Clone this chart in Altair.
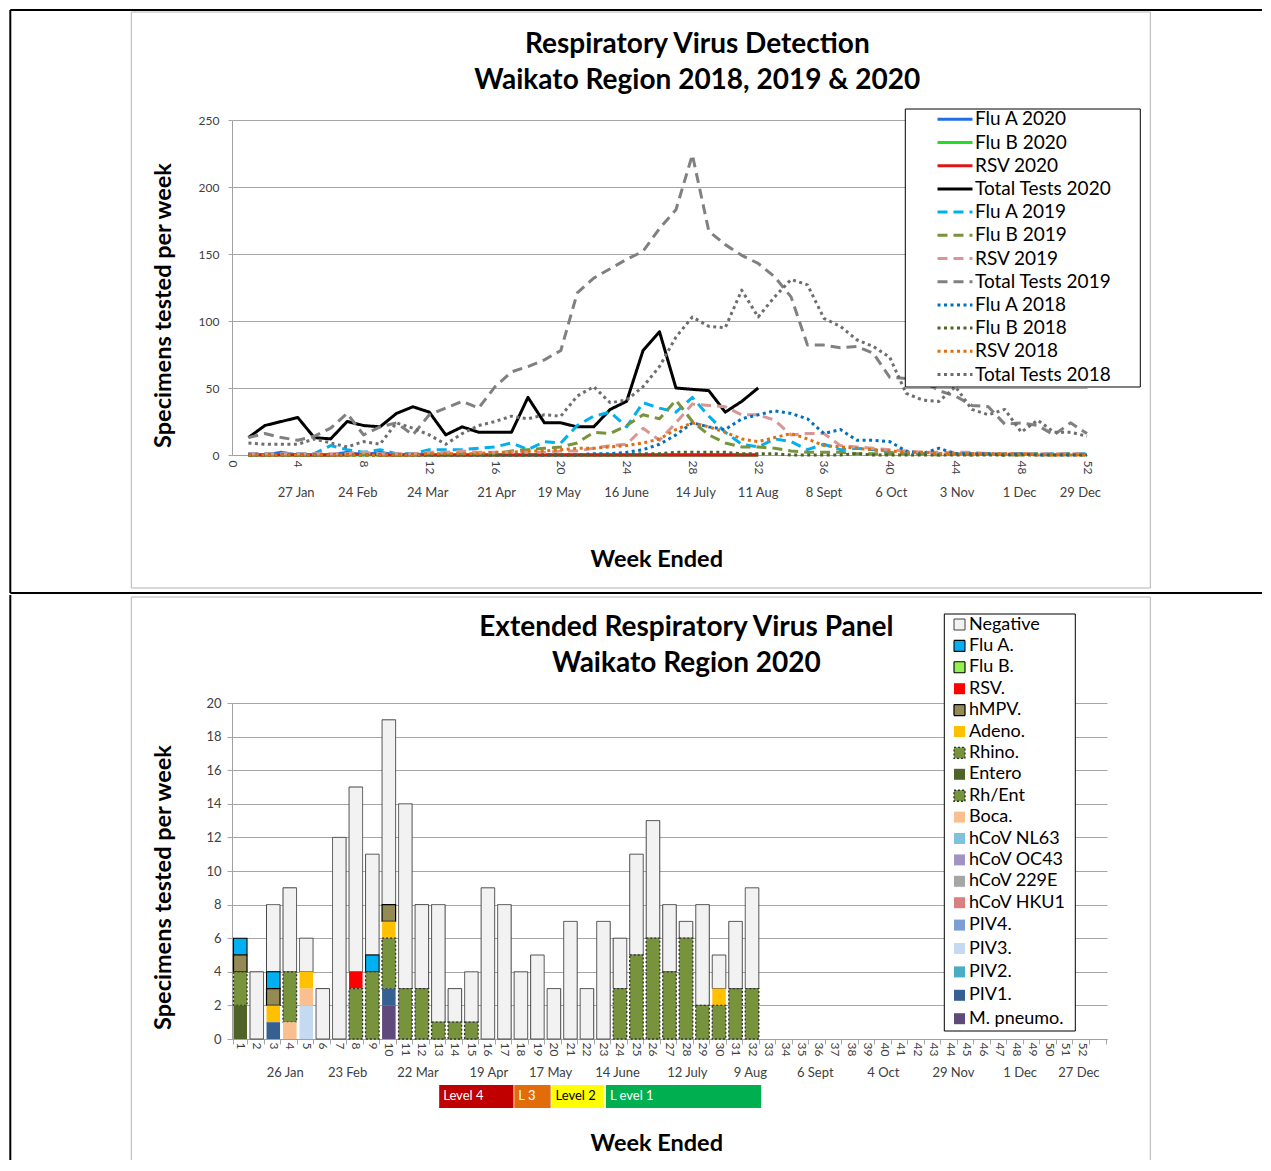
import altair as alt
import pandas as pd

FONT = "Lato"

# ---------------- Top chart data (weekly specimens) ----------------
flu_a_2020 = [1, 0, 2, 0, 0, 0, 2, 0, 2, 0, 1, 0, 0, 0, 0, 0, 0, 0, 0, 0, 0, 0, 0, 0, 0, 0, 0, 0, 0, 0, 0, 0]
flu_b_2020 = [0, 0, 0, 0, 0, 0, 0, 0, 0, 0, 0, 0, 0, 0, 0, 0, 0, 0, 0, 0, 0, 0, 0, 0, 0, 0, 0, 0, 0, 0, 0, 0]
rsv_2020 = [0, 0, 0, 0, 0, 0, 0, 1, 0, 0, 0, 0, 0, 0, 0, 0, 0, 0, 0, 0, 0, 0, 0, 0, 0, 0, 0, 0, 0, 0, 0, 0]
total_2020 = [13, 22, 25, 28, 13, 12, 25, 22, 21, 31, 36, 32, 15, 21, 17, 17, 17, 43, 24, 24,
              21, 21, 34, 40, 78, 92, 50, 49, 48, 32, 40, 50]
flu_a_2019 = [1, 1, 1, 1, 1, 7, 4, 2, 4, 1, 1, 4, 4, 4, 5, 6, 9, 4, 10, 9, 22, 29, 32, 21, 39, 35,
              32, 43, 29, 17, 8, 6, 12, 10, 4, 8, 4, 5, 4, 2, 1, 1, 1, 1, 1, 1, 1, 1, 1, 1, 1, 1]
flu_b_2019 = [0, 0, 0, 0, 0, 0, 0, 1, 0, 0, 0, 1, 1, 1, 1, 1, 3, 4, 5, 6, 9, 17, 16, 22, 30, 27,
              41, 25, 15, 9, 6, 6, 5, 3, 2, 2, 2, 1, 1, 1, 1, 1, 0, 1, 0, 1, 0, 0, 1, 0, 1, 0]
rsv_2019 = [1, 1, 1, 1, 1, 1, 1, 2, 1, 1, 1, 2, 2, 3, 2, 2, 2, 2, 2, 3, 3, 5, 7, 8, 20, 11,
            24, 38, 37, 36, 30, 30, 26, 15, 16, 16, 7, 6, 5, 4, 3, 2, 2, 2, 2, 1, 1, 1, 1, 1, 1, 1]
total_2019 = [13, 16, 13, 11, 14, 20, 31, 15, 21, 24, 15, 30, 35, 40, 35, 51, 62, 66, 71, 78,
              121, 132, 139, 146, 152, 169, 183, 224, 167, 157, 149, 143, 133, 118, 82, 82, 80,
              81, 76, 58, 57, 55, 48, 44, 37, 36, 23, 24, 22, 15, 24, 16]
flu_a_2018 = [0, 0, 0, 0, 0, 0, 0, 0, 0, 0, 0, 0, 0, 0, 0, 0, 0, 0, 0, 0, 0, 1, 1, 2, 4, 8,
              15, 24, 21, 19, 27, 30, 33, 31, 27, 16, 19, 11, 11, 10, 3, 1, 5, 1, 1, 1, 0, 1, 0, 0, 0, 0]
flu_b_2018 = [0, 0, 0, 0, 0, 0, 0, 0, 0, 0, 0, 0, 0, 0, 0, 0, 0, 0, 0, 0, 0, 0, 0, 0, 1, 1,
              2, 2, 2, 2, 1, 1, 1, 0, 0, 0, 0, 1, 0, 0, 0, 0, 0, 0, 0, 0, 0, 0, 0, 0, 0, 0]
rsv_2018 = [0, 0, 0, 0, 0, 0, 0, 0, 0, 0, 0, 1, 1, 1, 1, 2, 2, 3, 3, 4, 5, 5, 6, 7, 9, 12,
            19, 24, 21, 17, 12, 10, 13, 16, 12, 7, 6, 5, 4, 3, 2, 2, 1, 1, 1, 1, 1, 1, 0, 0, 0, 0]
total_2018 = [9, 8, 8, 8, 12, 9, 6, 10, 8, 24, 20, 15, 8, 16, 22, 25, 29, 27, 30, 29, 44, 51,
              39, 41, 51, 66, 88, 103, 96, 95, 123, 103, 118, 131, 127, 102, 96, 86, 81, 73, 46,
              41, 40, 51, 34, 30, 34, 17, 26, 17, 17, 14]

top_series = ["Flu A 2020", "Flu B 2020", "RSV 2020", "Total Tests 2020",
              "Flu A 2019", "Flu B 2019", "RSV 2019", "Total Tests 2019",
              "Flu A 2018", "Flu B 2018", "RSV 2018", "Total Tests 2018"]
top_values = [flu_a_2020, flu_b_2020, rsv_2020, total_2020,
              flu_a_2019, flu_b_2019, rsv_2019, total_2019,
              flu_a_2018, flu_b_2018, rsv_2018, total_2018]
top_colors = ["#1F6FE0", "#22DD22", "#DD1515", "#000000",
              "#00B0F0", "#77933C", "#D99694", "#808080",
              "#0070C0", "#4F6228", "#E46C0A", "#6E6E6E"]
top_dashes = [[1, 0], [1, 0], [1, 0], [1, 0],
              [10, 6], [10, 6], [10, 6], [10, 6],
              [3, 3.5], [3, 3.5], [3, 3.5], [3, 3.5]]
top_widths = [3, 3, 3, 4.2, 3.5, 3.5, 3.5, 3.5, 3.2, 3.2, 3.2, 3.2]

top_title_lines = ["Respiratory Virus Detection", "Waikato Region 2018, 2019 & 2020"]
top_date_labels = ["27 Jan", "24 Feb", "24 Mar", "21 Apr", "19 May", "16 June", "14 July",
                   "11 Aug", "8 Sept", "6 Oct", "3 Nov", "1 Dec", "29 Dec"]
top_date_weeks = [3.9, 7.65, 11.9, 16.1, 19.9, 24.0, 28.2, 32.0, 36.0, 40.1, 44.1, 47.9, 51.6]

# ---------------- Bottom chart data (extended panel 2020) ----------------
panel_weeks = list(range(1, 33))
negative = [0, 4, 4, 5, 2, 3, 12, 11, 6, 11, 11, 5, 7, 2, 3, 9, 8, 4, 5, 3, 7, 3, 7, 3, 6, 7, 4, 1, 6, 2, 4, 6]
flu_a = [1, 0, 1, 0, 0, 0, 0, 0, 1, 0, 0, 0, 0, 0, 0, 0, 0, 0, 0, 0, 0, 0, 0, 0, 0, 0, 0, 0, 0, 0, 0, 0]
rsv = [0, 0, 0, 0, 0, 0, 0, 1, 0, 0, 0, 0, 0, 0, 0, 0, 0, 0, 0, 0, 0, 0, 0, 0, 0, 0, 0, 0, 0, 0, 0, 0]
hmpv = [1, 0, 1, 0, 0, 0, 0, 0, 0, 1, 0, 0, 0, 0, 0, 0, 0, 0, 0, 0, 0, 0, 0, 0, 0, 0, 0, 0, 0, 0, 0, 0]
adeno = [0, 0, 1, 0, 1, 0, 0, 0, 0, 1, 0, 0, 0, 0, 0, 0, 0, 0, 0, 0, 0, 0, 0, 0, 0, 0, 0, 0, 0, 1, 0, 0]
rhino = [2, 0, 0, 3, 0, 0, 0, 3, 4, 3, 3, 3, 1, 1, 1, 0, 0, 0, 0, 0, 0, 0, 0, 3, 5, 6, 4, 6, 2, 2, 3, 3]
entero = [2, 0, 0, 0, 0, 0, 0, 0, 0, 0, 0, 0, 0, 0, 0, 0, 0, 0, 0, 0, 0, 0, 0, 0, 0, 0, 0, 0, 0, 0, 0, 0]
boca = [0, 0, 0, 1, 1, 0, 0, 0, 0, 0, 0, 0, 0, 0, 0, 0, 0, 0, 0, 0, 0, 0, 0, 0, 0, 0, 0, 0, 0, 0, 0, 0]
piv3 = [0, 0, 0, 0, 2, 0, 0, 0, 0, 0, 0, 0, 0, 0, 0, 0, 0, 0, 0, 0, 0, 0, 0, 0, 0, 0, 0, 0, 0, 0, 0, 0]
piv1 = [0, 0, 1, 0, 0, 0, 0, 0, 0, 1, 0, 0, 0, 0, 0, 0, 0, 0, 0, 0, 0, 0, 0, 0, 0, 0, 0, 0, 0, 0, 0, 0]
m_pneumo = [0, 0, 0, 0, 0, 0, 0, 0, 0, 2, 0, 0, 0, 0, 0, 0, 0, 0, 0, 0, 0, 0, 0, 0, 0, 0, 0, 0, 0, 0, 0, 0]

categories = ["Negative", "Flu A.", "Flu B.", "RSV.", "hMPV.", "Adeno.", "Rhino.", "Entero",
              "Rh/Ent", "Boca.", "hCoV NL63", "hCoV OC43", "hCoV 229E", "hCoV HKU1", "PIV4.",
              "PIV3.", "PIV2.", "PIV1.", "M. pneumo."]
cat_fill = ["#F2F2F2", "#00B0F0", "#92F050", "#FF0000", "#948A54", "#FFC000", "#77933C", "#4F6228",
            "#77933C", "#FABF8F", "#7DC3DB", "#A293C4", "#A6A6A6", "#D98080", "#7B9FD4",
            "#C5D9F1", "#4BACC6", "#366092", "#604A7B"]
cat_stroke = ["#404040", "#000000", "#000000", "transparent", "#000000", "transparent", "#333333",
              "transparent", "#333333", "transparent", "transparent", "transparent", "transparent",
              "transparent", "transparent", "transparent", "transparent", "transparent", "transparent"]
cat_stroke_w = [1, 2, 2, 0, 2, 0, 1, 0, 1, 0, 0, 0, 0, 0, 0, 0, 0, 0, 0]
cat_dash = [[1, 0], [1, 0], [1, 0], [1, 0], [1, 0], [1, 0], [2, 2], [1, 0], [2, 2], [1, 0],
            [1, 0], [1, 0], [1, 0], [1, 0], [1, 0], [1, 0], [1, 0], [1, 0], [1, 0]]
panel_counts = {"Negative": negative, "Flu A.": flu_a, "RSV.": rsv, "hMPV.": hmpv,
                "Adeno.": adeno, "Rhino.": rhino, "Entero": entero, "Boca.": boca,
                "PIV3.": piv3, "PIV1.": piv1, "M. pneumo.": m_pneumo}

bottom_title_lines = ["Extended Respiratory Virus Panel", "Waikato Region 2020"]
bottom_date_labels = ["26 Jan", "23 Feb", "22 Mar", "19 Apr", "17 May", "14 June", "12 July",
                      "9 Aug", "6 Sept", "4 Oct", "29 Nov", "1 Dec", "27 Dec"]
bottom_date_weeks = [3.72, 7.5, 11.77, 16.06, 19.8, 23.85, 28.08, 31.9, 35.83, 39.95, 44.2, 48.24, 51.8]

level_labels = ["Level 4", "L 3", "Level 2", "L evel 1"]
level_start = [13.05, 17.6, 19.85, 23.15]
level_end = [17.55, 19.8, 23.05, 32.55]
level_fill = ["#C00000", "#E26B0A", "#FFFF00", "#00B050"]
level_text = ["#FFFFFF", "#FFFFFF", "#000000", "#FFFFFF"]

# ---------------- Build tables ----------------
rows = []
for name, vals in zip(top_series, top_values):
    for i, v in enumerate(vals):
        rows.append({"week": i + 1, "value": v, "series": name})
df_top = pd.DataFrame(rows)
df_top_dates = pd.DataFrame({"label": top_date_labels, "pos": top_date_weeks})
df_top_dates["y"] = -28.3

brows = []
for name, vals in panel_counts.items():
    for w, v in zip(panel_weeks, vals):
        if v > 0:
            brows.append({"week": w, "category": name, "count": v,
                          "ord": len(categories) - categories.index(name)})
df_bars = pd.DataFrame(brows)
df_bottom_dates = pd.DataFrame({"label": bottom_date_labels, "pos": bottom_date_weeks})
df_bottom_dates["y"] = -2.02
df_levels = pd.DataFrame({"label": level_labels, "start": level_start, "end": level_end,
                          "fill": level_fill, "tcolor": level_text})
df_levels["y0"] = -2.74
df_levels["y1"] = -4.1
df_levels["ym"] = -3.42

one = pd.DataFrame({"k": [0]})

GRID = "#A6A6A6"
LABEL = "#404040"
FRAME = "#B4B4B4"


def deco_rect(x, x2, y, y2, fill, stroke):
    return alt.Chart(one).mark_rect(fill=fill, stroke=stroke, strokeWidth=1,
                                    fillOpacity=0 if fill == "none" else 1).encode(
        x=alt.value(x), x2=alt.value(x2), y=alt.value(y), y2=alt.value(y2))


def hrule(x, x2, y, color, width):
    return alt.Chart(one).mark_rule(color=color, strokeWidth=width).encode(
        x=alt.value(x), x2=alt.value(x2), y=alt.value(y))


def vrule(x, y, y2, color, width):
    return alt.Chart(one).mark_rule(color=color, strokeWidth=width).encode(
        x=alt.value(x), y=alt.value(y), y2=alt.value(y2))


def title_text(line, x, y):
    return alt.Chart(pd.DataFrame({"t": [line]})).mark_text(
        fontSize=28, fontWeight="bold", color="#000000", align="center", baseline="middle").encode(
        x=alt.value(x), y=alt.value(y), text="t:N")


# ---------------- Top chart ----------------
W1, H1 = 855, 335
xs_top = alt.Scale(domain=[0, 52], nice=False, zero=False)
ys_top = alt.Scale(domain=[0, 250], nice=False)

x_axis_top = alt.Axis(values=list(range(0, 53, 4)), labelAngle=90, ticks=False, grid=False,
                      domainColor="#A0A0A0", labelFontSize=12, labelColor=LABEL,
                      labelPadding=5, labelFlush=False, labelOverlap=False,
                      title="Week Ended", titleX=424.3, titleY=104, titleBaseline="middle",
                      titleFontSize=23.5, titleFontWeight="bold", titleColor="#000000")
y_axis_top = alt.Axis(values=[0, 50, 100, 150, 200, 250], grid=True, gridColor=GRID,
                      tickSize=4, tickColor=GRID, domainColor="#A0A0A0",
                      labelFontSize=12, labelColor=LABEL, labelPadding=9,
                      title="Specimens tested per week", titleX=-69, titleY=185,
                      titleBaseline="middle", titleFontSize=23.5, titleFontWeight="bold",
                      titleColor="#000000")

top_frame = deco_rect(-100.7, 918.3, -108, 468, "none", FRAME)
top_line_a = hrule(-221.7, 1030, -110, "black", 2)
top_line_b = hrule(-221.7, 1030, 473, "black", 2)
top_line_c = vrule(-221.7, -110, 473, "black", 2)

legend_top = alt.Legend(title=None, orient="none", legendX=679, legendY=-11.2, padding=0,
                        symbolType="M-2,0H2", symbolSize=306, symbolStrokeWidth=3,
                        symbolOffset=33.5, labelOffset=9.5, rowPadding=2.2, symbolLimit=50,
                        labelFontSize=19, labelColor="#000000", labelFont=FONT, labelLimit=300)

lines = alt.Chart(df_top).mark_line(strokeJoin="round").encode(
    x=alt.X("week:Q", scale=xs_top, axis=x_axis_top),
    y=alt.Y("value:Q", scale=ys_top, axis=y_axis_top),
    color=alt.Color("series:N", scale=alt.Scale(domain=top_series, range=top_colors), legend=legend_top),
    strokeDash=alt.StrokeDash("series:N", scale=alt.Scale(domain=top_series, range=top_dashes),
                              legend=legend_top),
    strokeWidth=alt.StrokeWidth("series:N", scale=alt.Scale(domain=top_series, range=top_widths),
                                legend=None),
)

top_legend_box = deco_rect(673.3, 908.3, -11, 267, "white", "#000000")

top_dates = alt.Chart(df_top_dates).mark_text(fontSize=13, color=LABEL, baseline="middle").encode(
    x=alt.X("pos:Q", scale=xs_top, axis=x_axis_top),
    y=alt.Y("y:Q", scale=ys_top, axis=y_axis_top),
    text="label:N")

top_t1 = title_text(top_title_lines[0], 465.3, -75)
top_t2 = title_text(top_title_lines[1], 465.3, -39)

top = alt.layer(top_frame, top_line_a, top_line_b, top_line_c, lines, top_legend_box, top_dates,
                top_t1, top_t2).properties(width=W1, height=H1)

# ---------------- Bottom chart ----------------
W2, H2 = 875, 336
ys_bot = alt.Scale(domain=[0, 20], nice=False)
xq_bot = alt.Scale(domain=[0.5, 53.5], nice=False, zero=False)

y_axis_bot = alt.Axis(values=list(range(0, 21, 2)), grid=True, gridColor=GRID,
                      tickSize=5, tickColor=GRID, domainColor="#A0A0A0",
                      labelFontSize=13, labelColor=LABEL, labelPadding=6,
                      title="Specimens tested per week", titleX=-69, titleY=184,
                      titleBaseline="middle", titleFontSize=23.5, titleFontWeight="bold",
                      titleColor="#000000")

bot_frame_top = hrule(-100.7, 918.3, -106, FRAME, 1)
bot_frame_l = vrule(-100.7, -106, 457, FRAME, 1)
bot_frame_r = vrule(918.3, -106, 457, FRAME, 1)
bot_line = vrule(-221.7, -108, 457, "black", 2)

legend_bot = alt.Legend(title=None, orient="none", legendX=714, legendY=-87.5, padding=0,
                        symbolType="square", symbolSize=121, symbolStrokeWidth=1,
                        symbolOffset=4.5, labelOffset=0.5, rowPadding=3.4, symbolLimit=50,
                        labelFontSize=18, labelColor="#000000", labelFont=FONT, labelLimit=300)

bars = alt.Chart(df_bars).mark_bar().encode(
    x=alt.X("week:O", scale=alt.Scale(domain=list(range(1, 54)), paddingInner=0.18, paddingOuter=0.09),
            axis=alt.Axis(labelAngle=90, labelExpr="datum.value == 53 ? '' : datum.label",
                          tickBand="extent", tickSize=5, tickColor=GRID, domainColor="#A0A0A0",
                          grid=False, labelFontSize=12, labelColor=LABEL, labelPadding=-2,
                          labelOverlap=False,
                          title="Week Ended", titleX=424.3, titleY=104, titleBaseline="middle",
                          titleFontSize=23.5, titleFontWeight="bold", titleColor="#000000")),
    y=alt.Y("count:Q", stack="zero", scale=ys_bot, axis=y_axis_bot),
    fill=alt.Fill("category:N", scale=alt.Scale(domain=categories, range=cat_fill), legend=legend_bot),
    stroke=alt.Stroke("category:N", scale=alt.Scale(domain=categories, range=cat_stroke), legend=legend_bot),
    strokeDash=alt.StrokeDash("category:N", scale=alt.Scale(domain=categories, range=cat_dash),
                              legend=legend_bot),
    strokeWidth=alt.StrokeWidth("category:N", scale=alt.Scale(domain=categories, range=cat_stroke_w),
                                legend=None),
    order=alt.Order("ord:Q", sort="ascending"),
)

bot_legend_box = deco_rect(712.3, 843.3, -89, 328, "white", "#000000")

level_rects = alt.Chart(df_levels).mark_rect().encode(
    x=alt.X("start:Q", scale=xq_bot, axis=None), x2="end:Q",
    y=alt.Y("y0:Q", scale=ys_bot, axis=y_axis_bot), y2="y1:Q",
    fill=alt.Fill("fill:N", scale=None, legend=None))
level_texts = alt.Chart(df_levels).mark_text(fontSize=13, align="left", baseline="middle", dx=4).encode(
    x=alt.X("start:Q", scale=xq_bot, axis=None),
    y=alt.Y("ym:Q", scale=ys_bot, axis=y_axis_bot),
    text="label:N",
    color=alt.Color("tcolor:N", scale=None, legend=None))
bot_dates = alt.Chart(df_bottom_dates).mark_text(fontSize=13, color=LABEL, baseline="middle").encode(
    x=alt.X("pos:Q", scale=xq_bot, axis=None),
    y=alt.Y("y:Q", scale=ys_bot, axis=y_axis_bot),
    text="label:N")

bot_t1 = title_text(bottom_title_lines[0], 454.3, -75)
bot_t2 = title_text(bottom_title_lines[1], 454.3, -39)

bottom = alt.layer(bot_frame_top, bot_frame_l, bot_frame_r, bot_line, bars, bot_legend_box,
                   level_rects, level_texts, bot_dates, bot_t1, bot_t2).resolve_scale(
    x="independent").properties(width=W2, height=H2)

chart = alt.vconcat(top, bottom, spacing=0).resolve_scale(
    color="independent", fill="independent", stroke="independent",
    strokeDash="independent", strokeWidth="independent"
).resolve_legend(
    color="independent", fill="independent", stroke="independent",
    strokeDash="independent", strokeWidth="independent"
).properties(
    padding={"left": 1, "top": 1, "right": 0, "bottom": 0}
).configure(font=FONT).configure_view(stroke=None)

chart.save("out.html", embed_options={"renderer": "svg", "actions": False})
